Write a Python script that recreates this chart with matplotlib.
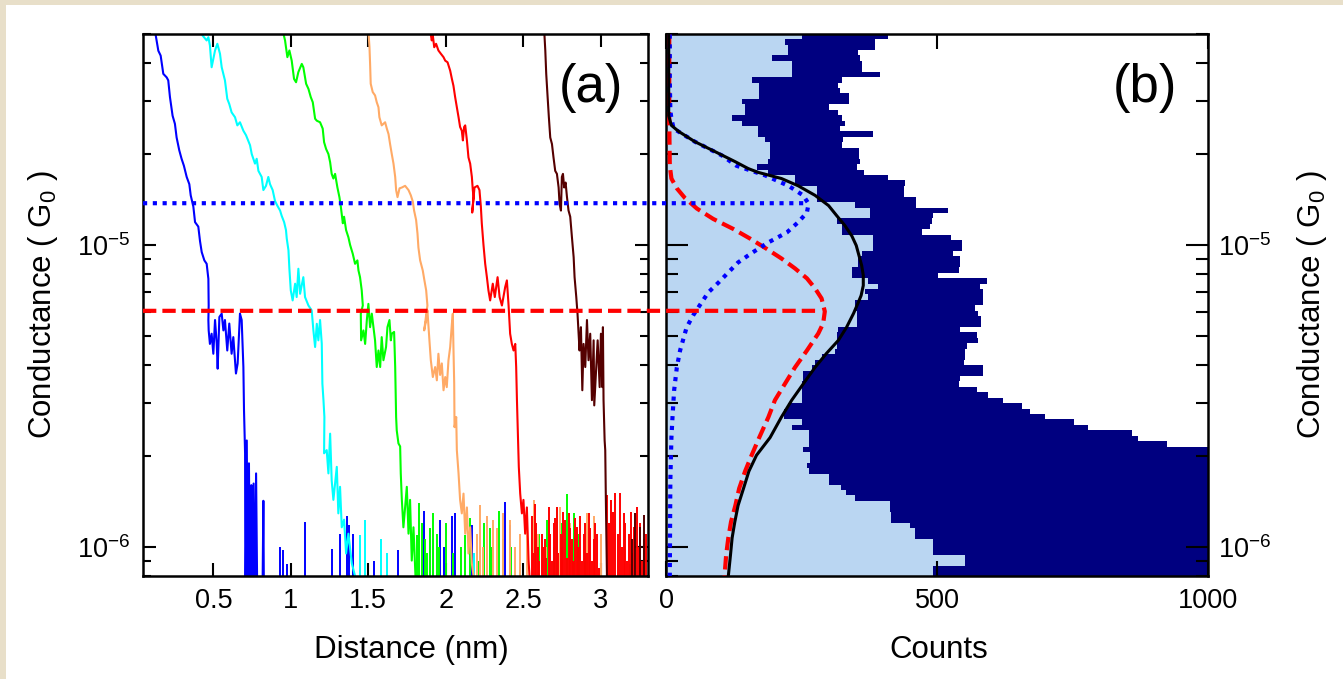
import numpy as np
import matplotlib
matplotlib.use('Agg')
import matplotlib.pyplot as plt
from matplotlib.patches import Rectangle, ConnectionPatch
from matplotlib.ticker import FixedLocator, LogLocator, NullFormatter

plt.rcParams['font.family'] = ['Liberation Sans', 'DejaVu Sans']
plt.rcParams['mathtext.fontset'] = 'custom'
plt.rcParams['mathtext.rm'] = 'Liberation Sans'
plt.rcParams['mathtext.it'] = 'Liberation Sans:italic'
plt.rcParams['mathtext.bf'] = 'Liberation Sans:bold'

# ---- panel (a): breaking traces, distance (nm) vs conductance (1e-6 G0) ----
blue_d = [0.123, 0.145, 0.160, 0.177, 0.199, 0.209, 0.220, 0.237, 0.252, 0.263,
          0.280, 0.295, 0.310, 0.328, 0.345, 0.354, 0.371, 0.382, 0.403, 0.414,
          0.425, 0.442, 0.457, 0.468, 0.470, 0.468, 0.470, 0.478, 0.489, 0.500,
          0.511, 0.522, 0.528, 0.539, 0.554, 0.565, 0.575, 0.590, 0.603, 0.618,
          0.629, 0.646, 0.657, 0.672, 0.683, 0.694, 0.698, 0.705, 0.707, 0.716,
          0.722, 0.730, 0.737, 0.745, 0.752, 0.760, 0.768, 0.776, 0.786, 0.815,
          0.823, 0.828]
blue_g = [51.3, 44.0, 42.4, 36.9, 35.9, 35.1, 30.9, 26.8, 25.2, 22.7,
          20.6, 19.3, 18.3, 16.8, 15.9, 14.6, 13.4, 11.9, 11.5, 10.3,
          9.47, 8.89, 8.66, 7.72, 6.30, 5.64, 5.21, 4.70, 5.08, 4.36,
          5.64, 4.70, 3.89, 5.77, 5.92, 5.21, 5.64, 4.47, 5.49, 4.36,
          4.95, 3.75, 4.05, 5.92, 5.64, 3.94, 2.84, 2.04, 0.5, 2.25,
          0.6, 1.89, 0.5, 1.60, 0.7, 1.62, 0.5, 1.75, 0.5, 0.5,
          1.42, 0.5]

cyan_d = [0.431, 0.457, 0.468, 0.478, 0.489, 0.511, 0.526, 0.543, 0.554, 0.575,
          0.590, 0.603, 0.618, 0.640, 0.655, 0.672, 0.694, 0.711, 0.737, 0.748,
          0.769, 0.780, 0.791, 0.812, 0.823, 0.840, 0.855, 0.866, 0.883, 0.898,
          0.913, 0.931, 0.941, 0.957, 0.969, 0.974, 0.985, 0.991, 1.000, 1.012,
          1.028, 1.038, 1.049, 1.060, 1.081, 1.092, 1.114, 1.135, 1.146, 1.157,
          1.168, 1.178, 1.189, 1.200, 1.204, 1.211, 1.217, 1.215, 1.232, 1.243,
          1.254, 1.264, 1.275, 1.297, 1.307, 1.318, 1.329, 1.344, 1.357, 1.372,
          1.394, 1.415, 1.420]
cyan_g = [49.4, 47.6, 48.8, 45.8, 38.8, 44.1, 46.4, 43.0, 38.8, 35.1,
          30.5, 29.3, 27.5, 26.5, 24.9, 25.5, 23.9, 23.1, 21.4, 20.0,
          18.6, 19.3, 17.6, 16.8, 15.2, 15.7, 16.8, 15.9, 15.2, 14.0,
          13.5, 13.0, 12.5, 11.9, 11.2, 10.5, 9.6, 8.34, 7.07, 6.55,
          7.44, 6.72, 8.34, 6.89, 7.82, 6.72, 6.30, 6.07, 5.21, 4.59,
          5.48, 4.83, 5.64, 4.71, 3.47, 3.06, 2.69, 2.04, 2.09, 1.75,
          2.37, 1.66, 1.43, 1.84, 1.29, 1.58, 1.16, 1.23, 0.95, 1.105,
          0.88, 0.80, 0.5]

green_d = [0.948, 0.963, 0.969, 0.978, 0.991, 1.006, 1.021, 1.034, 1.049, 1.071,
           1.081, 1.099, 1.114, 1.129, 1.142, 1.157, 1.168, 1.189, 1.206, 1.215,
           1.228, 1.243, 1.254, 1.264, 1.275, 1.286, 1.301, 1.314, 1.323, 1.336,
           1.344, 1.357, 1.372, 1.383, 1.400, 1.415, 1.430, 1.437, 1.447, 1.458,
           1.465, 1.452, 1.454, 1.469, 1.480, 1.491, 1.501, 1.512, 1.523, 1.544,
           1.555, 1.566, 1.577, 1.587, 1.598, 1.615, 1.624, 1.637, 1.646, 1.652,
           1.667, 1.674, 1.680, 1.684, 1.695, 1.706, 1.710, 1.717, 1.727, 1.738,
           1.749, 1.760, 1.770, 1.781, 1.792, 1.805, 1.808]
green_g = [51.3, 47.6, 45.2, 41.9, 44.1, 40.8, 35.5, 34.6, 37.4, 39.8,
           38.8, 34.2, 32.9, 30.9, 29.7, 26.2, 25.8, 25.5, 24.3, 21.9,
           20.8, 20.0, 18.8, 17.2, 16.6, 17.2, 15.5, 14.4, 13.4, 11.8,
           12.4, 11.2, 10.6, 10.0, 9.35, 8.66, 8.89, 8.23, 7.82, 7.07,
           6.30, 5.92, 4.83, 5.21, 4.70, 5.64, 6.38, 5.34, 5.92, 4.83,
           3.94, 4.47, 3.94, 4.95, 4.15, 4.59, 5.34, 5.64, 4.83, 5.08,
           5.15, 3.94, 2.69, 2.43, 2.20, 2.15, 1.75, 1.43, 1.16, 1.35,
           1.58, 1.105, 1.43, 0.90, 1.16, 0.80, 0.5]

orange_d = [1.501, 1.508, 1.512, 1.516, 1.529, 1.544, 1.555, 1.566, 1.572, 1.587,
            1.609, 1.620, 1.631, 1.641, 1.652, 1.663, 1.674, 1.680, 1.689, 1.702,
            1.717, 1.738, 1.760, 1.775, 1.788, 1.796, 1.809, 1.818, 1.824, 1.835,
            1.852, 1.861, 1.874, 1.882, 1.861, 1.874, 1.882, 1.895, 1.904, 1.917,
            1.932, 1.943, 1.953, 1.964, 1.975, 1.986, 1.997, 2.007, 2.018, 2.029,
            2.040, 2.046, 2.050, 2.055, 2.057, 2.068, 2.072, 2.083, 2.093, 2.104,
            2.115, 2.126, 2.137, 2.147, 2.158, 2.169, 2.180, 2.185]
orange_g = [51.3, 45.2, 39.8, 34.2, 32.1, 31.3, 29.7, 28.6, 26.5, 24.9,
            25.5, 24.3, 23.3, 21.6, 20.0, 18.6, 16.8, 15.2, 14.4, 15.4,
            15.5, 15.7, 15.2, 14.6, 13.9, 13.0, 12.1, 10.9, 9.8, 8.89,
            8.23, 7.72, 7.07, 6.30, 5.21, 5.64, 6.07, 4.83, 4.15, 3.65,
            3.94, 3.56, 4.36, 3.71, 4.05, 3.30, 3.65, 3.38, 4.15, 4.59,
            5.48, 5.92, 4.59, 3.47, 2.49, 2.69, 2.09, 1.75, 1.43, 1.29,
            1.50, 1.105, 1.35, 0.95, 1.16, 0.88, 0.80, 0.5]

red_d = [1.900, 1.910, 1.917, 1.926, 1.938, 1.953, 1.969, 1.986, 1.997, 2.012,
         2.029, 2.040, 2.050, 2.061, 2.072, 2.083, 2.093, 2.104, 2.111, 2.119,
         2.126, 2.137, 2.147, 2.158, 2.169, 2.175, 2.180, 2.171, 2.186, 2.205,
         2.218, 2.227, 2.233, 2.244, 2.255, 2.266, 2.276, 2.287, 2.304, 2.317,
         2.335, 2.348, 2.363, 2.384, 2.395, 2.406, 2.416, 2.427, 2.438, 2.449,
         2.455, 2.460, 2.466, 2.472, 2.481, 2.492, 2.502, 2.513, 2.524, 2.535,
         2.541, 2.545]
red_g = [51.3, 47.6, 49.4, 45.2, 46.4, 44.1, 43.0, 41.9, 40.8, 40.3,
         37.8, 35.5, 33.7, 30.9, 28.6, 26.5, 24.6, 23.9, 22.2, 24.6,
         24.9, 22.2, 19.5, 18.6, 16.8, 15.2, 14.4, 12.8, 15.5, 15.7,
         15.2, 13.4, 11.8, 10.0, 8.66, 7.82, 7.07, 6.55, 7.44, 6.72,
         7.82, 6.72, 6.30, 7.25, 7.63, 6.30, 5.08, 4.70, 4.47, 4.70,
         3.94, 3.06, 2.37, 1.84, 1.50, 1.29, 1.43, 1.105, 1.35, 0.90,
         0.80, 0.5]

brown_d = [2.636, 2.643, 2.649, 2.658, 2.666, 2.675, 2.686, 2.696, 2.707, 2.718,
           2.729, 2.735, 2.744, 2.750, 2.757, 2.765, 2.774, 2.783, 2.793, 2.804,
           2.815, 2.826, 2.832, 2.843, 2.847, 2.851, 2.858, 2.864, 2.873, 2.882,
           2.890, 2.901, 2.912, 2.922, 2.933, 2.944, 2.955, 2.959, 2.972, 2.981,
           2.994, 3.002, 3.011, 3.015, 3.019, 3.026, 3.030, 3.034, 3.041, 3.045]
brown_g = [51.3, 44.1, 36.9, 30.9, 26.5, 22.7, 21.6, 19.5, 17.6, 17.2,
           15.5, 13.7, 13.0, 16.8, 17.2, 15.5, 16.1, 14.4, 13.0, 12.4,
           10.6, 9.11, 7.82, 6.72, 6.30, 5.92, 5.08, 4.47, 5.34, 3.30,
           4.70, 3.94, 5.64, 4.15, 5.08, 3.06, 4.83, 2.94, 3.94, 4.83,
           3.38, 5.08, 3.38, 5.34, 3.06, 2.25, 2.09, 1.43, 0.80, 0.5]

# noise spikes above the floor after each junction breaks
blue_noise_d = [0.931, 0.952, 0.974, 1.092, 1.264, 1.318, 1.361, 1.376, 1.404, 1.534,
                1.695, 1.857, 1.900, 1.964, 1.986, 2.040, 2.061, 2.169, 2.384, 2.416]
blue_noise_g = [0.999, 0.974, 0.88, 1.21, 0.986, 1.105, 1.26, 1.18, 1.105, 0.90,
                0.974, 1.31, 1.15, 1.23, 0.999, 1.26, 1.29, 1.18, 1.41, 1.18]
cyan_noise_d = [1.447, 1.482, 1.581, 1.620, 1.900, 1.921, 2.180]
cyan_noise_g = [1.09, 1.23, 1.06, 0.95, 0.95, 1.06, 0.95]
green_noise_d = [1.814, 1.830, 1.845, 1.867, 1.882, 1.900, 1.921, 1.943, 1.960, 2.000,
                 2.050, 2.100, 2.126, 2.160, 2.212, 2.250, 2.287, 2.300, 2.341, 2.373,
                 2.420, 2.600, 2.653, 2.700, 2.718, 2.750, 2.782, 2.826, 2.858, 2.900,
                 3.192]
green_noise_g = [1.09, 1.40, 1.20, 1.06, 0.95, 1.15, 1.29, 1.105, 1.00, 1.20,
                 0.95, 1.00, 1.09, 1.25, 0.90, 1.20, 1.15, 1.00, 1.31, 1.06,
                 1.00, 1.10, 1.23, 1.00, 1.35, 1.20, 1.50, 1.29, 1.105, 0.95,
                 0.88]
orange_noise_d = [2.200, 2.223, 2.240, 2.266, 2.304, 2.330, 2.373, 2.416, 2.450, 2.480,
                  2.524, 2.567, 2.599, 2.650, 2.739, 2.800, 2.850, 2.912, 2.955, 3.000]
orange_noise_g = [1.10, 1.37, 1.00, 1.26, 1.23, 1.15, 1.29, 1.23, 1.00, 1.10,
                  1.35, 1.43, 1.105, 1.00, 1.35, 1.20, 1.00, 1.29, 1.26, 1.10]
red_noise_d = [2.556, 2.561, 2.578, 2.585, 2.599, 2.605, 2.621, 2.628, 2.643, 2.650,
               2.664, 2.672, 2.688, 2.696, 2.705, 2.718, 2.725, 2.744, 2.752, 2.760,
               2.772, 2.780, 2.793, 2.800, 2.815, 2.825, 2.835, 2.847, 2.855, 2.869,
               2.878, 2.890, 2.900, 2.915, 2.922, 2.930, 2.945, 2.955, 2.965, 2.976,
               2.990, 3.041, 3.055, 3.067, 3.080, 3.095, 3.110, 3.127, 3.140, 3.149,
               3.160, 3.170, 3.181, 3.195, 3.205, 3.213, 3.235, 3.245, 3.256, 3.265,
               3.278, 3.290]
red_noise_g = [1.26, 0.95, 1.39, 1.20, 1.00, 0.90, 1.105, 1.00, 1.06, 0.92,
               1.35, 1.10, 0.90, 1.20, 1.25, 1.35, 0.95, 1.105, 1.00, 1.30,
               1.23, 0.92, 1.29, 1.15, 1.06, 0.90, 1.25, 1.16, 1.00, 1.26,
               0.90, 1.105, 1.20, 0.95, 1.29, 1.15, 0.90, 1.06, 1.20, 1.105,
               0.85, 1.48, 1.20, 1.43, 1.30, 1.51, 1.10, 1.51, 1.00, 1.29,
               1.20, 0.90, 1.105, 1.30, 0.95, 1.16, 1.35, 1.00, 1.20, 0.90,
               1.06, 1.10]
brown_noise_d = [3.202, 3.224, 3.256, 3.278]
brown_noise_g = [1.06, 1.29, 1.16, 1.27]

# ---- panel (b): histograms, bins from high to low conductance ----
counts_all = [410, 386, 386, 355, 358, 362, 362, 395, 324, 318,
              321, 338, 338, 300, 318, 325, 331, 321, 381, 327,
              324, 356, 356, 358, 352, 366, 410, 441, 440, 440,
              462, 462, 520, 493, 490, 487, 472, 526, 546, 546,
              530, 542, 542, 541, 502, 593, 579, 585, 585, 585,
              570, 576, 582, 582, 542, 573, 576, 555, 552, 552,
              549, 585, 585, 542, 541, 574, 595, 622, 656, 672,
              700, 753, 778, 859, 870, 925, 1040, 1060, 1090, 1100,
              1130, 1150, 1160, 1190, 1200, 1230, 1250, 1270, 1300, 1320,
              1340, 1360, 1380, 1400, 1420, 1440, 1450, 1470, 1480, 1500]
counts_sel = [250, 220, 226, 226, 195, 232, 232, 232, 158, 172,
              172, 172, 141, 146, 146, 121, 141, 170, 170, 183,
              192, 192, 192, 189, 167, 189, 238, 238, 278, 278,
              278, 349, 376, 376, 315, 324, 324, 382, 382, 382,
              361, 355, 355, 343, 343, 373, 392, 367, 373, 349,
              349, 352, 352, 352, 317, 315, 315, 315, 312, 287,
              275, 269, 253, 253, 250, 250, 250, 250, 226, 217,
              217, 250, 232, 263, 264, 264, 253, 266, 266, 260,
              263, 300, 300, 323, 333, 349, 413, 413, 416, 416,
              450, 459, 459, 493, 493, 493, 552, 552, 493, 493]
log_bin_top, log_bin_bottom = -4.3, -6.1

# fitted peaks (conductance in 1e-6 G0, counts)
fit_blue_g = [49.8, 35.1, 27.9, 26.2, 24.3, 22.0, 19.8, 18.3, 17.0, 15.7,
              14.6, 13.7, 12.8, 11.9, 11.0, 10.2, 9.4, 8.75, 8.11, 7.51,
              6.96, 6.30, 5.84, 5.33, 4.47, 3.93, 3.30, 2.69, 2.30, 1.66, 0.80]
fit_blue_c = [7, 7, 8, 10, 14, 53, 103, 130, 183, 226,
              253, 263, 260, 244, 223, 189, 158, 133, 115, 97,
              78, 62, 50, 38, 26, 20, 15, 12, 10, 8, 7]
fit_red_g = [49.8, 25.8, 18.3, 16.6, 15.4, 14.3, 13.2, 12.2, 11.3, 10.5,
             9.7, 9.02, 8.36, 7.75, 7.18, 6.65, 6.02, 5.50, 5.09, 4.47,
             3.93, 3.48, 3.06, 2.69, 2.30, 2.01, 1.78, 1.56, 1.37, 1.21,
             1.07, 0.94, 0.80]
fit_red_c = [6, 6, 7, 10, 20, 35, 57, 87, 124, 155,
             186, 213, 238, 260, 275, 287, 293, 290, 281, 260,
             238, 220, 201, 189, 172, 158, 146, 135, 128, 120,
             115, 111, 108]
fit_sum_g = [49.8, 26.8, 24.9, 23.8, 22.0, 20.4, 18.9, 17.9, 17.4, 16.6,
             15.7, 14.6, 13.5, 12.5, 11.6, 10.7, 9.96, 9.23, 8.55, 7.93,
             7.34, 6.80, 6.40, 5.93, 5.33, 4.83, 4.37, 3.93, 3.48, 3.06,
             2.69, 2.30, 2.01, 1.78, 1.56, 1.37, 1.21, 1.07, 0.94, 0.80]
fit_sum_c = [5, 5, 10, 23, 53, 90, 127, 152, 170, 213,
             244, 275, 300, 315, 330, 343, 351, 356, 361, 364,
             364, 360, 354, 346, 333, 318, 296, 275, 254, 232,
             213, 192, 167, 153, 143, 133, 127, 122, 119, 115]

blue_level, blue_level_end = 13.75, 256
red_level, red_level_end = 6.05, 285

dotted = (0, (1.0, 1.35))
dashed = (0, (3.2, 1.45))

fig = plt.figure(figsize=(13.43, 6.79), dpi=100)
fig.patch.set_facecolor('#e8dfc9')
fig.add_artist(Rectangle((6 / 1343, 0), 1, 1 - 5 / 679, transform=fig.transFigure,
                         facecolor='white', edgecolor='none', zorder=-5))

ax1 = fig.add_axes([143 / 1343, 103 / 679, 505 / 1343, 542 / 679])
ax2 = fig.add_axes([666 / 1343, 103 / 679, 542 / 1343, 542 / 679])

traces = [
    (blue_d, blue_g, blue_noise_d, blue_noise_g, '#0000ff'),
    (cyan_d, cyan_g, cyan_noise_d, cyan_noise_g, '#00ffff'),
    (green_d, green_g, green_noise_d, green_noise_g, '#00ff00'),
    (orange_d, orange_g, orange_noise_d, orange_noise_g, '#ffaa66'),
    (red_d, red_g, red_noise_d, red_noise_g, '#ff0000'),
    (brown_d, brown_g, brown_noise_d, brown_noise_g, '#550000'),
]
for d, g, nd, ng, c in traces:
    ax1.plot(d, np.array(g) * 1e-6, color=c, lw=1.5)
    ax1.vlines(nd, 5e-7, np.array(ng) * 1e-6, color=c, lw=1.4)

ax1.set_xlim(0.046, 3.306)
ax1.set_xticks([0.5, 1, 1.5, 2, 2.5, 3])
ax1.set_xticklabels(['0.5', '1', '1.5', '2', '2.5', '3'])
ax1.text(0.887, 0.90, '(a)', transform=ax1.transAxes, fontsize=38,
         ha='center', va='center')

# histogram (b)
edges = np.logspace(log_bin_bottom, log_bin_top, len(counts_all) + 1)
ax2.stairs(counts_all[::-1], edges, orientation='horizontal', fill=True,
           color='#000080', zorder=1)
ax2.stairs(counts_sel[::-1], edges, orientation='horizontal', fill=True,
           color='#bad6f2', zorder=1.1)
ax2.plot(fit_red_c, np.array(fit_red_g) * 1e-6, color='#ff0000', lw=3,
         ls=dashed, dash_capstyle='butt', zorder=3)
ax2.plot(fit_blue_c, np.array(fit_blue_g) * 1e-6, color='#0000ff', lw=3,
         ls=dotted, dash_capstyle='butt', zorder=3.5)
ax2.plot(fit_sum_c, np.array(fit_sum_g) * 1e-6, color='black', lw=2.2, zorder=4)
ax2.set_xlim(0, 1000)
ax2.set_xticks([0, 500, 1000])
ax2.text(0.884, 0.90, '(b)', transform=ax2.transAxes, fontsize=38,
         ha='center', va='center')

for ax in (ax1, ax2):
    ax.set_yscale('log')
    ax.set_ylim(8e-7, 5e-5)
    ax.yaxis.set_major_locator(FixedLocator([1e-6, 1e-5]))
    ax.yaxis.set_minor_locator(LogLocator(base=10, subs=np.arange(2, 10), numticks=20))
    ax.yaxis.set_minor_formatter(NullFormatter())
    for s in ax.spines.values():
        s.set_linewidth(1.8)
    ax.tick_params(which='both', direction='in', top=True, right=True,
                   width=1.5, labelsize=19.5)

ax1.tick_params(which='major', length=9.5)
ax1.tick_params(which='minor', length=5.8)
ax1.tick_params(axis='y', pad=9)
ax1.tick_params(axis='x', pad=9)

ax2.tick_params(axis='y', which='both', left=True, right=True,
                labelleft=False, labelright=True, pad=7)
ax2.tick_params(axis='y', which='major', length=16)
ax2.tick_params(axis='y', which='minor', length=8.5)
ax2.tick_params(axis='x', which='major', length=11, pad=9)

# level lines joining the peaks to the traces
for level, end, color, ls in [(blue_level, blue_level_end, '#0000ff', dotted),
                              (red_level, red_level_end, '#ff0000', dashed)]:
    con = ConnectionPatch(xyA=(ax1.get_xlim()[0], level * 1e-6), coordsA=ax1.transData,
                          xyB=(end, level * 1e-6), coordsB=ax2.transData,
                          color=color, lw=3, linestyle=ls, capstyle='butt', zorder=5)
    fig.add_artist(con)

ylab = 'Conductance ( G$_\\mathregular{0}$ )'
ax1.set_xlabel('Distance (nm)', fontsize=22.5)
ax1.xaxis.set_label_coords(0.531, -0.108)
ax2.set_xlabel('Counts', fontsize=22.5)
ax2.xaxis.set_label_coords(0.504, -0.108)
ax1.set_ylabel(ylab, fontsize=22.5, va='center')
ax1.yaxis.set_label_coords(-0.198, 0.5)
ax2.yaxis.set_label_position('right')
ax2.set_ylabel(ylab, fontsize=22.5, rotation=90, va='center')
ax2.yaxis.set_label_coords(1.192, 0.5)

fig.savefig('out.png', dpi=100, facecolor=fig.get_facecolor())
